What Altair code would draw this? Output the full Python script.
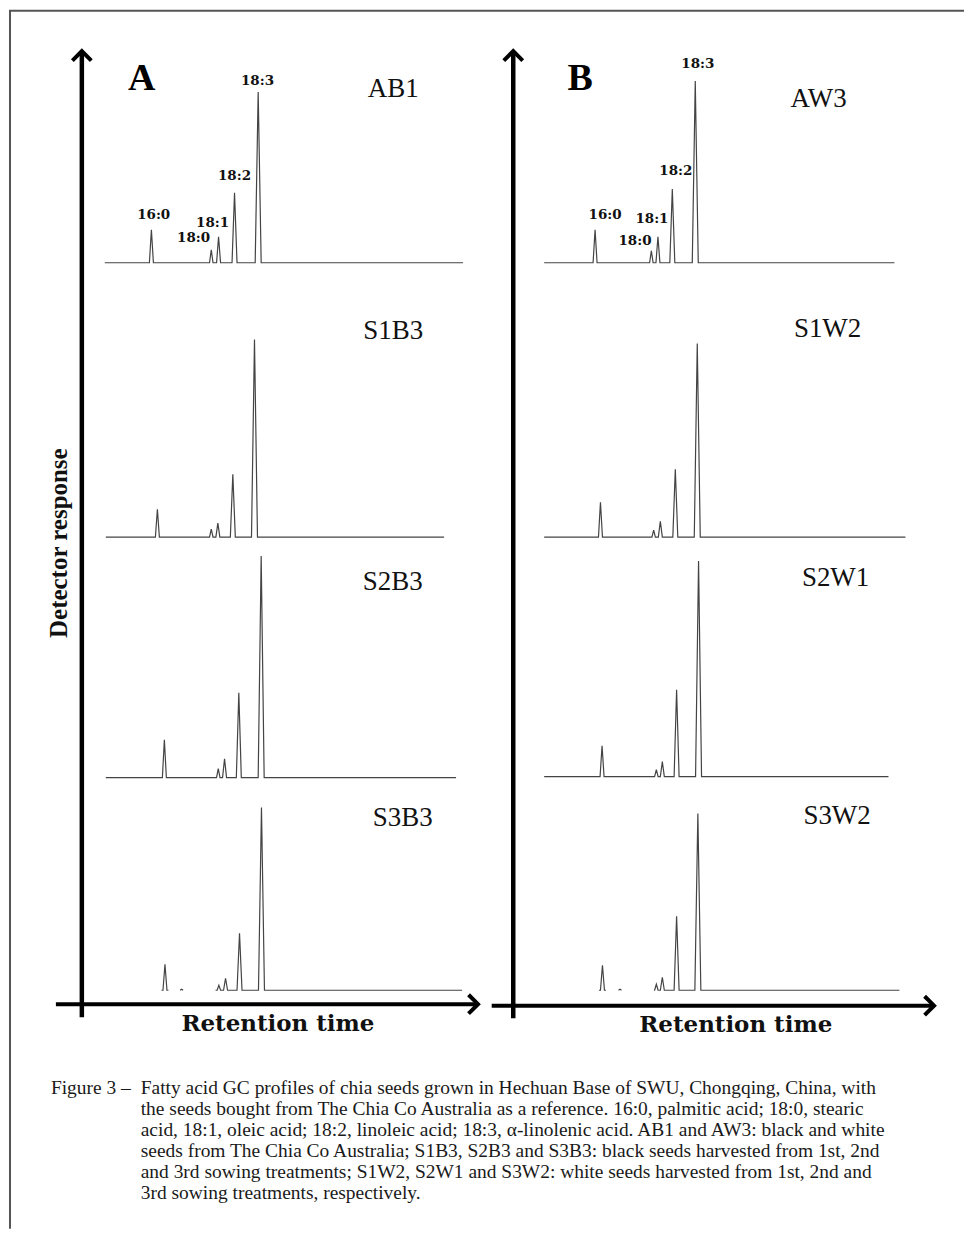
import altair as alt
import pandas as pd

# ---------------- data ----------------
acids = ["16:0", "18:0", "18:1", "18:2", "18:3"]

samples_a = ["AB1", "S1B3", "S2B3", "S3B3"]
samples_b = ["AW3", "S1W2", "S2W1", "S3W2"]

# retention time (arbitrary units, from the detector-response axis) of each peak
ab1_rt = [69.7, 129.7, 137.0, 153.0, 176.7]
s1b3_rt = [75.7, 129.7, 136.3, 151.3, 173.0]
s2b3_rt = [82.7, 136.7, 143.0, 157.3, 179.7]
s3b3_rt = [83.3, 137.3, 144.0, 158.0, 180.0]
aw3_rt = [82.0, 138.4, 145.0, 159.4, 182.4]
s1w2_rt = [87.4, 140.7, 147.4, 162.4, 184.4]
s2w1_rt = [89.0, 143.4, 149.4, 163.7, 185.7]
s3w2_rt = [89.4, 143.4, 149.4, 163.7, 185.0]

# peak heights (detector response, arbitrary units)
ab1_h = [33, 13, 26, 70, 171]
s1b3_h = [28, 8, 14, 63, 198]
s2b3_h = [38, 9, 19, 85, 222]
s3b3_h = [26, 5, 12, 57, 183]
aw3_h = [33, 12, 26, 74, 182]
s1w2_h = [35, 7, 16, 68, 194]
s2w1_h = [31, 7, 15, 87, 216]
s3w2_h = [25, 6, 13, 74, 177]

# recorded span of each run (start, end) and small spikes
ab1_span = [23, 382]
s1b3_span = [24, 363]
s2b3_span = [24, 375]
s3b3_span = [134, 381]
aw3_span = [31, 382]
s1w2_span = [31, 393]
s2w1_span = [31, 376]
s3w2_span = [142, 387]
s3b3_blips = [100]
s3w2_blips = [107]

caption_head = "Figure 3 –"
caption_lines = [
    "Fatty acid GC profiles of chia seeds grown in Hechuan Base of SWU, Chongqing, China, with",
    "the seeds bought from The Chia Co Australia as a reference. 16:0, palmitic acid; 18:0, stearic",
    "acid, 18:1, oleic acid; 18:2, linoleic acid; 18:3, α-linolenic acid. AB1 and AW3: black and white",
    "seeds from The Chia Co Australia; S1B3, S2B3 and S3B3: black seeds harvested from 1st, 2nd",
    "and 3rd sowing treatments; S1W2, S2W1 and S3W2: white seeds harvested from 1st, 2nd and",
    "3rd sowing treatments, respectively.",
]

# ---------------- layout (stacking offsets, label places) ----------------
PEAK_W = [4, 3.5, 4, 5, 6]
base_a = [743, 468, 227, 14]
base_b = [743, 468, 228, 14]

Y_DOMAIN = [-225, 996]
PANEL_H = 1221
CAP_FONT = 19.5


def build_trace(name, rts, hs, span, base, blips=()):
    rows = []
    state = {"i": 0, "seg": 0}

    def add(x, y):
        rows.append({"sample": name, "seg": f"{name}-{state['seg']}",
                     "rt": x, "y": base + y, "i": state["i"]})
        state["i"] += 1

    main = []
    for t, h, w in zip(rts, hs, PEAK_W):
        if t < span[0]:
            add(t - w / 2 - 1.5, 0); add(t - w / 2, 0); add(t, h)
            add(t + w / 2, 0); add(t + w / 2 + 1.5, 0)
            state["seg"] += 1
        else:
            main.append((t, h, w))
    for b in blips:
        add(b - 1.5, 0); add(b, 1); add(b + 1.5, 0)
        state["seg"] += 1
    add(span[0], 0)
    for t, h, w in main:
        add(t - w / 2, 0); add(t, h); add(t + w / 2, 0)
    add(span[1], 0)
    return rows


def panel(traces, x_domain, width, letter, letter_pos, sample_pos, samples,
          peak_pos, axes, arrows, xlab_pos, ylab_pos=None, extra=()):
    xs = alt.Scale(domain=x_domain, nice=False, zero=False)
    ys = alt.Scale(domain=Y_DOMAIN, nice=False, zero=False)
    X = lambda f: alt.X(f, type="quantitative", scale=xs, axis=None)
    Y = lambda f: alt.Y(f, type="quantitative", scale=ys, axis=None)

    trace = alt.Chart(pd.DataFrame(traces)).mark_line(
        color="#444444", strokeWidth=1.2, strokeJoin="miter"
    ).encode(x=X("rt"), y=Y("y"), detail="seg:N", order="i:Q")

    axis_df = pd.DataFrame(axes, columns=["x", "y", "x2", "y2", "w"])
    axis_rules = alt.Chart(axis_df).mark_rule(color="black").encode(
        x=X("x"), y=Y("y"), x2="x2:Q", y2="y2:Q",
        strokeWidth=alt.StrokeWidth("w:Q", scale=None))

    arrow_df = pd.DataFrame(arrows, columns=["x", "y", "ang"])
    heads = alt.Chart(arrow_df).mark_point(
        shape="M-1,1L0,0L1,1", filled=False, size=360, strokeWidth=4,
        color="black", opacity=1, strokeJoin="miter"
    ).encode(x=X("x"), y=Y("y"), angle=alt.Angle("ang:Q", scale=None))

    letter_t = alt.Chart(pd.DataFrame([{"x": letter_pos[0], "y": letter_pos[1], "t": letter}])).mark_text(
        font="Liberation Serif", fontWeight="bold", fontSize=38, color="black",
        baseline="middle", align="center").encode(x=X("x"), y=Y("y"), text="t:N")

    samp_df = pd.DataFrame([{"x": p[0], "y": p[1], "t": s} for p, s in zip(sample_pos, samples)])
    samp_t = alt.Chart(samp_df).mark_text(
        font="Liberation Serif", fontSize=27, color="#111",
        baseline="middle", align="center").encode(x=X("x"), y=Y("y"), text="t:N")

    peak_df = pd.DataFrame([{"x": p[0], "y": p[1], "t": a} for p, a in zip(peak_pos, acids)])
    peak_t = alt.Chart(peak_df).mark_text(
        font="DejaVu Serif", fontWeight="bold", fontSize=13.5, color="#111",
        baseline="middle", align="center").encode(x=X("x"), y=Y("y"), text="t:N")

    xlab = alt.Chart(pd.DataFrame([{"x": xlab_pos[0], "y": xlab_pos[1], "t": "Retention time"}])).mark_text(
        font="DejaVu Serif", fontWeight="bold", fontSize=23, color="#111",
        baseline="middle", align="center").encode(x=X("x"), y=Y("y"), text="t:N")

    layers = [trace, axis_rules, heads, letter_t, samp_t, peak_t, xlab]

    if ylab_pos is not None:
        ylab = alt.Chart(pd.DataFrame([{"x": ylab_pos[0], "y": ylab_pos[1], "t": "Detector  response"}])).mark_text(
            font="Liberation Serif", fontWeight="bold", fontSize=25, color="#111", angle=270,
            baseline="middle", align="center").encode(x=X("x"), y=Y("y"), text="t:N")
        layers.append(ylab)

    top_frame = alt.Chart(pd.DataFrame({"a": [0]})).mark_rule(color="#555", strokeWidth=2).encode(
        x=alt.value(0), x2=alt.value(width), y=alt.value(0.5))
    layers.append(top_frame)
    for f in extra:
        layers.append(f(Y))

    return alt.layer(*layers).properties(width=width, height=PANEL_H)


def caption_layers(Y):
    # caption lines sit 21 px apart, first one 84 units below the time axis
    cap_df = pd.DataFrame({"line": list(range(len(caption_lines))), "t": caption_lines})
    cap_df["pos"] = -84 - 21 * cap_df["line"]
    body = alt.Chart(cap_df).mark_text(
        font="Liberation Serif", fontSize=CAP_FONT, color="#1a1a1a", align="left", baseline="middle"
    ).encode(x=alt.value(132), y=Y("pos"), text="t:N")
    head = alt.Chart(pd.DataFrame({"pos": [-84], "t": [caption_head]})).mark_text(
        font="Liberation Serif", fontSize=CAP_FONT, color="#1a1a1a", align="left", baseline="middle"
    ).encode(x=alt.value(42), y=Y("pos"), text="t:N")
    frame = alt.Chart(pd.DataFrame({"a": [0]})).mark_rule(color="#555", strokeWidth=2).encode(
        x=alt.value(1), y=alt.value(0), y2=alt.value(PANEL_H))
    return alt.layer(body, head, frame)


rows_a = []
for name, rt, h, sp, b, bl in [
    ("AB1", ab1_rt, ab1_h, ab1_span, base_a[0], ()),
    ("S1B3", s1b3_rt, s1b3_h, s1b3_span, base_a[1], ()),
    ("S2B3", s2b3_rt, s2b3_h, s2b3_span, base_a[2], ()),
    ("S3B3", s3b3_rt, s3b3_h, s3b3_span, base_a[3], s3b3_blips),
]:
    rows_a += build_trace(name, rt, h, sp, b, bl)

rows_b = []
for name, rt, h, sp, b, bl in [
    ("AW3", aw3_rt, aw3_h, aw3_span, base_b[0], ()),
    ("S1W2", s1w2_rt, s1w2_h, s1w2_span, base_b[1], ()),
    ("S2W1", s2w1_rt, s2w1_h, s2w1_span, base_b[2], ()),
    ("S3W2", s3w2_rt, s3w2_h, s3w2_span, base_b[3], s3w2_blips),
]:
    rows_b += build_trace(name, rt, h, sp, b, bl)

panel_a = panel(
    rows_a, [-73, 407], 480, "A", (60, 927),
    [(312, 917), (312, 675), (311.5, 423), (321.5, 186.5)], samples_a,
    [(72, 791), (112, 768), (131, 783), (153, 830), (176, 925)],
    axes=[(0, -13, 0, 955, 4.5), (-26, 0, 397, 0, 4)],
    arrows=[(0, 955, 0), (397, 0, 90)],
    xlab_pos=(196.5, -20), ylab_pos=(-23, 462), extra=(caption_layers,),
)

panel_b = panel(
    rows_b, [-25.3, 451.7], 477, "B", (67, 927),
    [(306, 907), (315, 676.5), (323, 427), (324.5, 188.5)], samples_b,
    [(92, 791), (122, 765), (139, 787), (163, 835), (185, 942)],
    axes=[(0, -14, 0, 955, 4.5), (-21.6, -1.5, 421.7, -1.5, 4)],
    arrows=[(0, 955, 0), (421.7, -1.5, 90)],
    xlab_pos=(223, -21),
)

chart = alt.hconcat(panel_a, panel_b, spacing=0, bounds="flush").properties(
    padding=0, background="white"
).configure_view(stroke=None)

chart.save("out.html", embed_options={"renderer": "svg", "actions": False})
